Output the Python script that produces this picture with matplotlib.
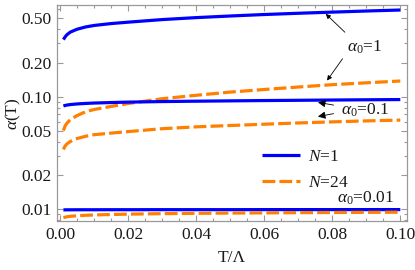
import matplotlib
matplotlib.use("Agg")
import matplotlib.pyplot as plt
from matplotlib.ticker import FixedLocator, NullFormatter

plt.rcParams['font.family'] = ['Liberation Serif', 'DejaVu Serif']
plt.rcParams['mathtext.fontset'] = 'custom'
plt.rcParams['mathtext.rm'] = 'Liberation Serif'
plt.rcParams['mathtext.it'] = 'Liberation Serif:italic'

T = [0.001, 0.0015, 0.002, 0.003, 0.005, 0.0075, 0.01, 0.015, 0.02,
     0.03, 0.04, 0.05, 0.06, 0.07, 0.08, 0.09, 0.1]

a1_N1 = [0.322, 0.340, 0.355, 0.375, 0.398, 0.417, 0.430, 0.447, 0.460,
         0.485, 0.505, 0.522, 0.538, 0.552, 0.565, 0.578, 0.590]
a1_N24 = [0.050, 0.055, 0.058, 0.0625, 0.068, 0.0735, 0.077, 0.082, 0.087,
          0.096, 0.103, 0.110, 0.116, 0.122, 0.128, 0.133, 0.138]
a01_N1 = [0.0828, 0.0837, 0.0843, 0.0852, 0.0863, 0.0872, 0.0879, 0.0888, 0.0896,
          0.0906, 0.0913, 0.0919, 0.0925, 0.0930, 0.0935, 0.0940, 0.0944]
a01_N24 = [0.034, 0.0365, 0.038, 0.040, 0.0425, 0.0445, 0.046, 0.0475, 0.049,
           0.052, 0.054, 0.0555, 0.057, 0.0585, 0.0598, 0.061, 0.062]
a001_N1 = [0.00988, 0.00988, 0.00989, 0.00989, 0.0099, 0.0099, 0.0099, 0.00991, 0.00991,
           0.00992, 0.00992, 0.00992, 0.00993, 0.00993, 0.00993, 0.00993, 0.00993]
a001_N24 = [0.00843, 0.0085, 0.00857, 0.00866, 0.00875, 0.00884, 0.0089, 0.00898, 0.00905,
            0.00914, 0.0092, 0.00925, 0.00929, 0.00933, 0.00936, 0.00939, 0.00942]

xticks = [0.00, 0.02, 0.04, 0.06, 0.08, 0.10]
xtick_labels = ["0.00", "0.02", "0.04", "0.06", "0.08", "0.10"]
yticks = [0.01, 0.02, 0.05, 0.10, 0.20, 0.50]
ytick_labels = ["0.01", "0.02", "0.05", "0.10", "0.20", "0.50"]
yminor = [0.008, 0.009, 0.03, 0.04, 0.06, 0.07, 0.08, 0.09, 0.3, 0.4, 0.6]

blue = '#0000ff'
orange = '#ff8000'
gray = '#999999'
txt = '#1a1a1a'
fs = 12.5

fig = plt.figure(figsize=(4.15, 2.70), dpi=100)
ax = fig.add_axes([0.138, 0.180, 0.843, 0.801])

lw = 2.3
dash = (0, (4.0, 1.3))
ax.plot(T, a1_N1, color=blue, lw=lw, solid_capstyle='butt', label='$N$=1')
ax.plot(T, a1_N24, color=orange, lw=lw, ls=dash, label='$N$=24')
ax.plot(T, a01_N1, color=blue, lw=lw, solid_capstyle='butt')
ax.plot(T, a01_N24, color=orange, lw=lw, ls=dash)
ax.plot(T, a001_N1, color=blue, lw=lw, solid_capstyle='butt')
ax.plot(T, a001_N24, color=orange, lw=lw, ls=dash)

ax.set_yscale('log')
ax.set_xlim(-0.0008, 0.1020)
ax.set_ylim(0.0078, 0.652)

ax.xaxis.set_major_locator(FixedLocator(xticks))
ax.set_xticklabels(xtick_labels)
ax.xaxis.set_minor_locator(FixedLocator([i * 0.005 for i in range(21) if i % 4 != 0]))
ax.yaxis.set_major_locator(FixedLocator(yticks))
ax.set_yticklabels(ytick_labels)
ax.yaxis.set_minor_locator(FixedLocator(yminor))
ax.yaxis.set_minor_formatter(NullFormatter())

for s in ax.spines.values():
    s.set_color(gray)
    s.set_linewidth(0.9)
ax.tick_params(which='both', direction='in', top=True, right=True, color=gray,
               labelsize=fs, labelcolor=txt, width=0.8)
ax.tick_params(which='major', length=4, pad=4)
ax.tick_params(which='minor', length=2)

ax.set_xlabel('T/Λ', fontsize=fs, color=txt, labelpad=5)
ax.set_ylabel(r'$\alpha$(T)', fontsize=fs, color=txt, labelpad=-1)

# annotations
akw = dict(arrowstyle='-|>', color='black', lw=0.6, mutation_scale=7)
ax.annotate('', xy=(0.0775, 0.567), xytext=(0.0843, 0.36),
            arrowprops=akw)
ax.annotate('', xy=(0.0780, 0.133), xytext=(0.0835, 0.228),
            arrowprops=akw)
ax.text(0.0843, 0.276, r'$\alpha_0$=1', fontsize=fs, color=txt, va='center', ha='left')

akw2 = dict(arrowstyle='-|>', color='black', lw=0.6, mutation_scale=11)
ax.annotate('', xy=(0.0750, 0.0900), xytext=(0.0812, 0.0835),
            arrowprops=akw2)
ax.annotate('', xy=(0.0750, 0.0660), xytext=(0.0812, 0.0715),
            arrowprops=akw2)
ax.text(0.0826, 0.0765, r'$\alpha_0$=0.1', fontsize=fs, color=txt, va='center', ha='left')

ax.text(0.0815, 0.0124, r'$\alpha_0$=0.01', fontsize=fs, color=txt, va='center', ha='left')

leg = ax.legend(loc='upper left', bbox_to_anchor=(0.585, 0.335), frameon=False,
                fontsize=fs, handlelength=2.2, handletextpad=0.45,
                labelspacing=0.57, borderaxespad=0, borderpad=0)
for t in leg.get_texts():
    t.set_color(txt)

fig.savefig('out.png', dpi=100)
